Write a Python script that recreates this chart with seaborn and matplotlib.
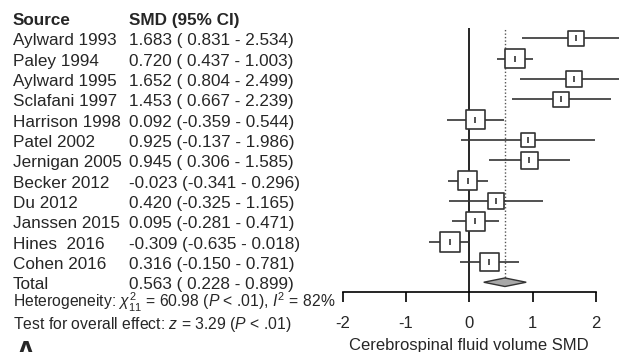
import numpy as np
import pandas as pd
import seaborn as sns
from matplotlib import pyplot as plt
from matplotlib import transforms

# Study data
sources = ['Aylward 1993', 'Paley 1994', 'Aylward 1995', 'Sclafani 1997',
           'Harrison 1998', 'Patel 2002', 'Jernigan 2005', 'Becker 2012',
           'Du 2012', 'Janssen 2015', 'Hines  2016', 'Cohen 2016']
smd = [1.683, 0.720, 1.652, 1.453, 0.092, 0.925, 0.945, -0.023,
       0.420, 0.095, -0.309, 0.316]
ci_low = [0.831, 0.437, 0.804, 0.667, -0.359, -0.137, 0.306, -0.341,
          -0.325, -0.281, -0.635, -0.150]
ci_high = [2.534, 1.003, 2.499, 2.239, 0.544, 1.986, 1.585, 0.296,
           1.165, 0.471, 0.018, 0.781]
weights = [6.6, 10.3, 6.6, 6.6, 9.6, 5.3, 7.9, 9.9, 6.9, 9.9, 10.8, 9.6]

# Pooled estimate
total_smd = 0.563
total_low = 0.228
total_high = 0.899
xticks = [-2, -1, 0, 1, 2]

df = pd.DataFrame({'source': sources, 'smd': smd, 'low': ci_low,
                   'high': ci_high, 'weight': weights})
df['row'] = np.arange(len(df))
total_row = len(df)

# Prepare figure
sns.set_style('white')
plt.rcParams['font.family'] = ['Liberation Sans', 'DejaVu Sans']
plt.rcParams['mathtext.fontset'] = 'custom'
plt.rcParams['mathtext.rm'] = 'Liberation Sans'
plt.rcParams['mathtext.it'] = 'Liberation Sans:italic'

fig = plt.figure(figsize=(6.19, 3.52), dpi=100)
ax = fig.add_axes([340 / 619, 60 / 352, 279 / 619, 264 / 352])

dark = '#333333'

# Confidence interval lines
ax.hlines(df['row'], df['low'], df['high'], color=dark, lw=1.2, zorder=2)

# Weighted squares
k = 19
sns.scatterplot(data=df, x='smd', y='row', size='weight',
                sizes=(5.3 * k, 10.8 * k), size_norm=(5.3, 10.8),
                marker='s', color='white', edgecolor=dark, linewidth=1.2,
                legend=False, zorder=3, ax=ax)
# Center marks
sns.scatterplot(data=df, x='smd', y='row', marker='|', s=14,
                color=dark, linewidth=1.2, legend=False, zorder=4, ax=ax)

# Diamond for total
h = 0.21
ax.fill([total_low, total_smd, total_high, total_smd],
        [total_row, total_row - h, total_row, total_row + h],
        facecolor='#a8a8a8', edgecolor=dark, lw=1.0, zorder=3)

# Reference lines
ax.axvline(0, color='black', lw=1.2, zorder=1)
ax.vlines(total_smd, -0.6, total_row - h, color='#555555', lw=1.0,
          linestyles=(0, (1, 1.5)), zorder=1)

# Axes styling
ax.set_xlim((340 - 469.3) / 63.3, (619 - 469.3) / 63.3)
ax.set_ylim(12.48, -0.507)
ax.set_yticks([])
ax.set_ylabel('')
for s in ['top', 'right', 'left']:
    ax.spines[s].set_visible(False)
ax.spines['bottom'].set_bounds(xticks[0], xticks[-1])
ax.spines['bottom'].set_linewidth(1.2)
ax.spines['bottom'].set_color('black')
ax.set_xticks(xticks)
ax.set_xticklabels([str(t) for t in xticks])
ax.tick_params(axis='x', direction='out', length=7, width=1.2,
               labelsize=12, pad=10, color='black', bottom=True)
ax.set_xlabel('Cerebrospinal fluid volume SMD', fontsize=12)
ax.xaxis.label.set_va('baseline')
ax.xaxis.set_label_coords(0, 2 / 352,
                          transform=transforms.blended_transform_factory(
                              ax.transData, fig.transFigure))

# Text columns
tr = transforms.blended_transform_factory(fig.transFigure, ax.transData)
x1 = 13 / 619
x2 = 129 / 619
off = 0.35
fs = 12.3
ax.text(x1, -1 + off, 'Source', transform=tr, fontsize=fs,
        fontweight='bold', va='baseline')
ax.text(x2, -1 + off, 'SMD (95% CI)', transform=tr, fontsize=fs,
        fontweight='bold', va='baseline')
for i, r in df.iterrows():
    ax.text(x1, r['row'] + off, r['source'], transform=tr, fontsize=fs,
            va='baseline')
    ax.text(x2, r['row'] + off,
            '{:.3f} ({: .3f} - {:.3f})'.format(r['smd'], r['low'], r['high']),
            transform=tr, fontsize=fs, va='baseline')
ax.text(x1, total_row + off, 'Total', transform=tr, fontsize=fs,
        va='baseline')
ax.text(x2, total_row + off,
        '{:.3f} ({: .3f} - {:.3f})'.format(total_smd, total_low, total_high),
        transform=tr, fontsize=fs, va='baseline')

# Heterogeneity and overall effect
ax.text(x1, total_row + 1.25,
        r'Heterogeneity: $\chi^2_{11}$ = 60.98 ($P$ < .01), $I^2$ = 82%',
        transform=tr, fontsize=11.3, va='baseline')
ax.text(x1, total_row + 2.28,
        r'Test for overall effect: $z$ = 3.29 ($P$ < .01)',
        transform=tr, fontsize=11.3, va='baseline')

# Panel letter
fig.text(x1 + 0.003, 12 / 352, 'A', fontsize=20, fontweight='bold',
         va='top')

plt.savefig('out.png', dpi=100)
